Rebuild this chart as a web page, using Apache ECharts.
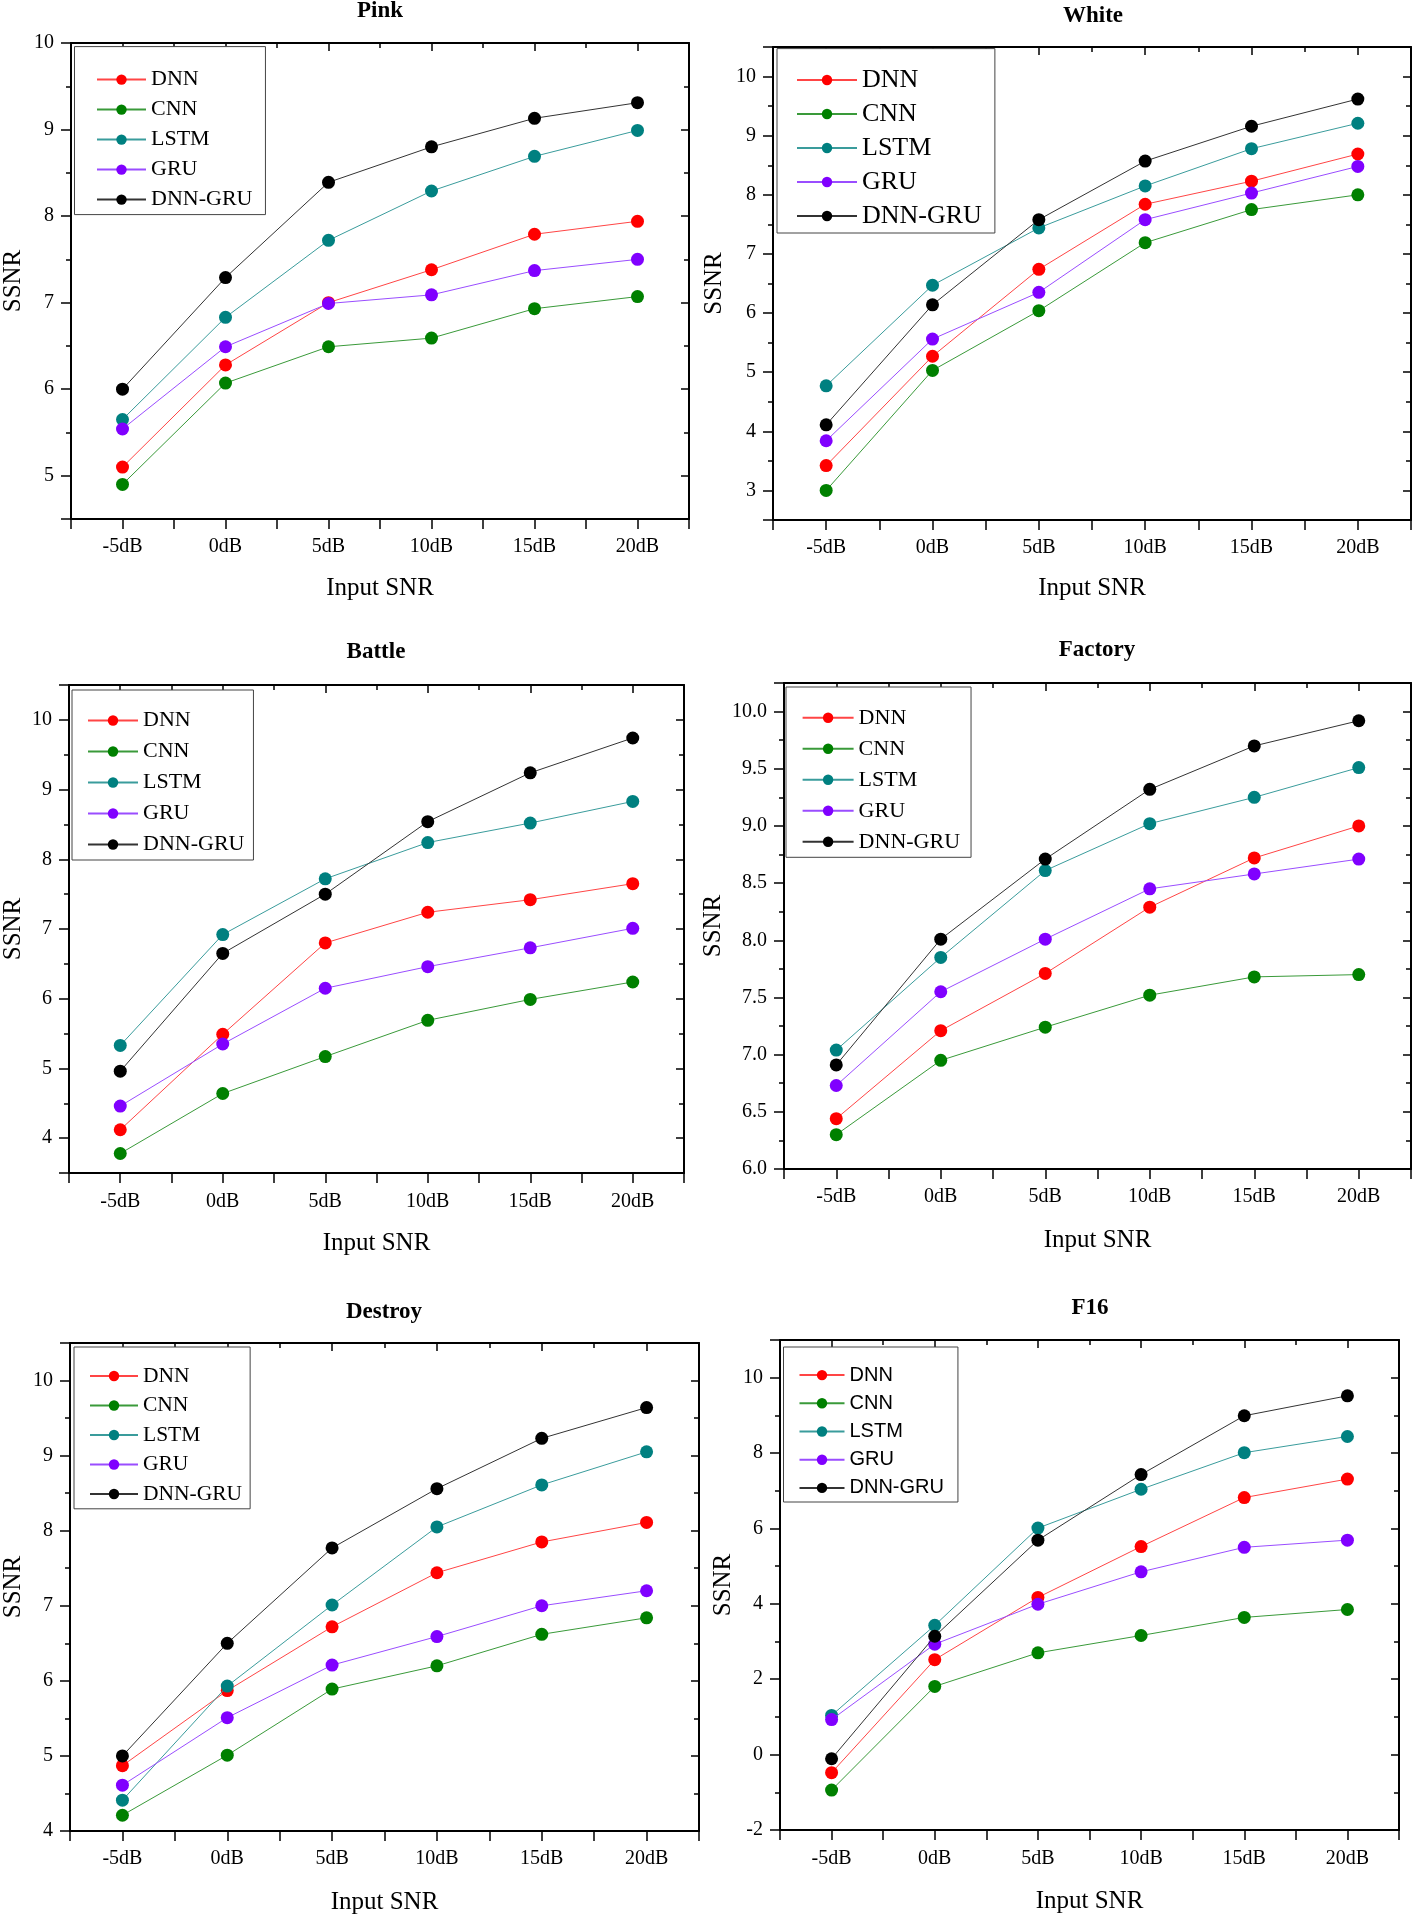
<!DOCTYPE html>
<html><head><meta charset="utf-8">
<script src="https://cdn.jsdelivr.net/npm/echarts@6/dist/echarts.min.js"></script>
<style>html,body{margin:0;padding:0;background:#fff}#c{width:1413px;height:1918px}</style>
</head><body><div id="c"></div>
<script>
const categories = ['-5dB', '0dB', '5dB', '10dB', '15dB', '20dB'];
const seriesNames = ['DNN', 'CNN', 'LSTM', 'GRU', 'DNN-GRU'];

const pinkDNN    = [5.10, 6.28, 7.00, 7.38, 7.79, 7.94];
const pinkCNN    = [4.90, 6.07, 6.49, 6.59, 6.93, 7.07];
const pinkLSTM   = [5.65, 6.83, 7.72, 8.29, 8.69, 8.99];
const pinkGRU    = [5.54, 6.49, 6.99, 7.09, 7.37, 7.50];
const pinkDNNGRU = [6.00, 7.29, 8.39, 8.80, 9.13, 9.31];

const whiteDNN    = [3.42, 5.27, 6.74, 7.84, 8.23, 8.69];
const whiteCNN    = [3.00, 5.03, 6.04, 7.19, 7.75, 8.00];
const whiteLSTM   = [4.77, 6.47, 7.44, 8.15, 8.78, 9.21];
const whiteGRU    = [3.84, 5.56, 6.35, 7.58, 8.03, 8.48];
const whiteDNNGRU = [4.11, 6.14, 7.58, 8.57, 9.16, 9.62];

const battleDNN    = [4.12, 5.49, 6.80, 7.24, 7.42, 7.65];
const battleCNN    = [3.78, 4.64, 5.17, 5.69, 5.99, 6.24];
const battleLSTM   = [5.33, 6.92, 7.72, 8.24, 8.52, 8.83];
const battleGRU    = [4.46, 5.35, 6.15, 6.46, 6.73, 7.01];
const battleDNNGRU = [4.96, 6.65, 7.50, 8.54, 9.24, 9.74];

const factoryDNN    = [6.44, 7.21, 7.71, 8.29, 8.72, 9.00];
const factoryCNN    = [6.30, 6.95, 7.24, 7.52, 7.68, 7.70];
const factoryLSTM   = [7.04, 7.85, 8.61, 9.02, 9.25, 9.51];
const factoryGRU    = [6.73, 7.55, 8.01, 8.45, 8.58, 8.71];
const factoryDNNGRU = [6.91, 8.01, 8.71, 9.32, 9.70, 9.92];

const destroyDNN    = [4.87, 5.87, 6.72, 7.44, 7.85, 8.11];
const destroyCNN    = [4.21, 5.01, 5.89, 6.20, 6.62, 6.84];
const destroyLSTM   = [4.41, 5.93, 7.01, 8.05, 8.61, 9.05];
const destroyGRU    = [4.61, 5.51, 6.21, 6.59, 7.00, 7.20];
const destroyDNNGRU = [5.00, 6.50, 7.77, 8.56, 9.23, 9.64];

const f16DNN    = [-0.48, 2.52, 4.17, 5.52, 6.82, 7.31];
const f16CNN    = [-0.94, 1.81, 2.70, 3.16, 3.64, 3.85];
const f16LSTM   = [1.04, 3.43, 6.01, 7.04, 8.01, 8.44];
const f16GRU    = [0.93, 2.93, 3.99, 4.85, 5.50, 5.69];
const f16DNNGRU = [-0.11, 3.14, 5.69, 7.43, 8.99, 9.52];

const markerColors = ['#ff0000', '#008000', '#008080', '#8000ff', '#000000'];
const lineColors   = ['#ff4545', '#3a9a3a', '#3a9c9c', '#9a4dff', '#333333'];

const SERIF = '"Liberation Serif", "Times New Roman", serif';
const SANS = '"Liberation Sans", Arial, sans-serif';

const panels = [
  {title: 'Pink', data: [pinkDNN, pinkCNN, pinkLSTM, pinkGRU, pinkDNNGRU],
   grid: {left: 70, top: 43, width: 619, height: 476},
   y: {min: 4.5, max: 10, major: 1, minor: 0.5, dec: 0},
   titlePos: [380, 11], xMargin: 18, xNameGap: 57, yNameGap: 45,
   lg: {left: 74.5, top: 46.6, pad: [18, 13, 0, 21.5], w: 49, fs: 22, lh: 30, font: SERIF}},
  {title: 'White', data: [whiteDNN, whiteCNN, whiteLSTM, whiteGRU, whiteDNNGRU],
   grid: {left: 773, top: 47, width: 638, height: 473},
   y: {min: 2.5, max: 10.5, major: 1, minor: 0.5, dec: 0},
   titlePos: [1093, 16], xMargin: 18, xNameGap: 56, yNameGap: 46,
   lg: {left: 777, top: 48.6, pad: [14.4, 13, 0, 19], w: 60, fs: 26, lh: 34, font: SERIF}},
  {title: 'Battle', data: [battleDNN, battleCNN, battleLSTM, battleGRU, battleDNNGRU],
   grid: {left: 67, top: 685, width: 617, height: 488},
   y: {min: 3.5, max: 10.5, major: 1, minor: 0.5, dec: 0},
   titlePos: [376, 652], xMargin: 19, xNameGap: 58, yNameGap: 43,
   lg: {left: 72, top: 690, pad: [15, 9, 0, 15], w: 50, fs: 22, lh: 31, font: SERIF}},
  {title: 'Factory', data: [factoryDNN, factoryCNN, factoryLSTM, factoryGRU, factoryDNNGRU],
   grid: {left: 784, top: 683, width: 627, height: 486},
   y: {min: 6.0, max: 10.25, major: 0.5, minor: 0.25, dec: 1},
   titlePos: [1097, 650], xMargin: 18, xNameGap: 59, yNameGap: 58,
   lg: {left: 786, top: 687, pad: [15.3, 11, 0, 15.6], w: 51, fs: 22, lh: 31, font: SERIF}},
  {title: 'Destroy', data: [destroyDNN, destroyCNN, destroyLSTM, destroyGRU, destroyDNNGRU],
   grid: {left: 67, top: 1343, width: 632, height: 488},
   y: {min: 4, max: 10.5, major: 1, minor: 0.5, dec: 0},
   titlePos: [384, 1312], xMargin: 18, xNameGap: 59, yNameGap: 44,
   lg: {left: 74, top: 1347, pad: [14.3, 8, 0, 15], w: 48, fs: 21.5, lh: 29.5, font: SERIF}},
  {title: 'F16', data: [f16DNN, f16CNN, f16LSTM, f16GRU, f16DNNGRU],
   grid: {left: 780, top: 1340, width: 619, height: 490},
   y: {min: -2, max: 11, major: 2, minor: 1, dec: 0},
   titlePos: [1090, 1308], xMargin: 19, xNameGap: 59, yNameGap: 44,
   lg: {left: 783.5, top: 1347, pad: [14, 14, 0, 15], w: 45, fs: 20, lh: 28.2, font: SANS}}
];

const grids = [], xAxes = [], yAxes = [], series = [], legends = [], graphics = [];
const black = '#000';

panels.forEach((p, i) => {
  grids.push(Object.assign({containLabel: false}, p.grid));
  const xBase = {type: 'category', gridIndex: i, data: categories, boundaryGap: true,
                 splitLine: {show: false}};
  xAxes.push(Object.assign({}, xBase, {
    position: 'bottom',
    axisLine: {show: true, onZero: false, lineStyle: {color: black, width: 2}},
    axisTick: {show: true, alignWithLabel: true, interval: 0, inside: false, length: 10,
               lineStyle: {color: black, width: 1.5}},
    axisLabel: {show: true, interval: 0, margin: p.xMargin, color: black, fontSize: 20, fontFamily: SERIF},
    name: 'Input SNR', nameLocation: 'middle', nameGap: p.xNameGap,
    nameTextStyle: {color: black, fontSize: 25, fontFamily: SERIF}
  }));
  xAxes.push(Object.assign({}, xBase, {
    position: 'bottom',
    axisLine: {show: false, onZero: false},
    axisTick: {show: true, alignWithLabel: false, interval: 0, inside: false, length: 10,
               lineStyle: {color: black, width: 1.5}},
    axisLabel: {show: false}
  }));
  xAxes.push(Object.assign({}, xBase, {
    position: 'top',
    axisLine: {show: true, onZero: false, lineStyle: {color: black, width: 2}},
    axisTick: {show: true, alignWithLabel: true, interval: 0, inside: true, length: 8,
               lineStyle: {color: black, width: 1.5}},
    axisLabel: {show: false}
  }));
  xAxes.push(Object.assign({}, xBase, {
    position: 'top',
    axisLine: {show: false, onZero: false},
    axisTick: {show: true, alignWithLabel: false, interval: 0, inside: true, length: 5,
               lineStyle: {color: black, width: 1.5}},
    axisLabel: {show: false}
  }));

  const yBase = {type: 'value', gridIndex: i, min: p.y.min, max: p.y.max, splitLine: {show: false}};
  const maj = p.y.major;
  const isMajor = v => Math.abs(v / maj - Math.round(v / maj)) < 1e-6;
  yAxes.push(Object.assign({}, yBase, {
    position: 'left', minInterval: maj, maxInterval: maj, splitNumber: 20,
    axisLine: {show: true, onZero: false, lineStyle: {color: black, width: 2}},
    axisTick: {show: true, inside: false, length: 10, lineStyle: {color: black, width: 1.5}},
    axisLabel: {show: true, margin: 17, color: black, fontSize: 20, fontFamily: SERIF,
                showMinLabel: true, showMaxLabel: true,
                formatter: v => isMajor(v) ? Number(v).toFixed(p.y.dec) : ''},
    name: 'SSNR', nameLocation: 'middle', nameGap: p.yNameGap,
    nameTextStyle: {color: black, fontSize: 25, fontFamily: SERIF}
  }));
  yAxes.push(Object.assign({}, yBase, {
    position: 'left', interval: p.y.minor,
    axisLine: {show: false, onZero: false},
    axisTick: {show: true, inside: false, length: 5, lineStyle: {color: black, width: 1.5}},
    axisLabel: {show: false}
  }));
  yAxes.push(Object.assign({}, yBase, {
    position: 'right', minInterval: maj, maxInterval: maj, splitNumber: 20,
    axisLine: {show: true, onZero: false, lineStyle: {color: black, width: 2}},
    axisTick: {show: true, inside: true, length: 8, lineStyle: {color: black, width: 1.5}},
    axisLabel: {show: false}
  }));
  yAxes.push(Object.assign({}, yBase, {
    position: 'right', interval: p.y.minor,
    axisLine: {show: false, onZero: false},
    axisTick: {show: true, inside: true, length: 5, lineStyle: {color: black, width: 1.5}},
    axisLabel: {show: false}
  }));

  p.data.forEach((vals, j) => {
    series.push({
      type: 'line', name: seriesNames[j], xAxisIndex: 4 * i, yAxisIndex: 4 * i,
      data: vals, symbol: 'circle', symbolSize: 13, showSymbol: true,
      itemStyle: {color: markerColors[j]},
      lineStyle: {color: lineColors[j], width: 1},
      emphasis: {disabled: true}, animation: false, z: 3 + j
    });
  });

  legends.push({
    orient: 'vertical', left: p.lg.left, top: p.lg.top, padding: p.lg.pad,
    itemGap: 0, itemWidth: p.lg.w, itemHeight: 13, data: seriesNames,
    borderColor: '#444', borderWidth: 1, backgroundColor: '#fff', borderRadius: 0,
    selectedMode: false,
    textStyle: {color: black, fontSize: p.lg.fs, lineHeight: p.lg.lh, fontFamily: p.lg.font}
  });

  graphics.push({
    type: 'text', x: p.titlePos[0], y: p.titlePos[1], z: 100,
    style: {text: p.title, fill: black, fontSize: 23, fontWeight: 'bold', fontFamily: SERIF,
            font: 'bold 23px ' + SERIF,
            align: 'center', verticalAlign: 'middle', textAlign: 'center', textVerticalAlign: 'middle'}
  });
});

const chart = echarts.init(document.getElementById('c'), null, {renderer: 'canvas'});
chart.setOption({
  animation: false,
  backgroundColor: '#fff',
  textStyle: {fontFamily: SERIF},
  grid: grids, xAxis: xAxes, yAxis: yAxes, series: series, legend: legends, graphic: graphics
});
</script></body></html>
